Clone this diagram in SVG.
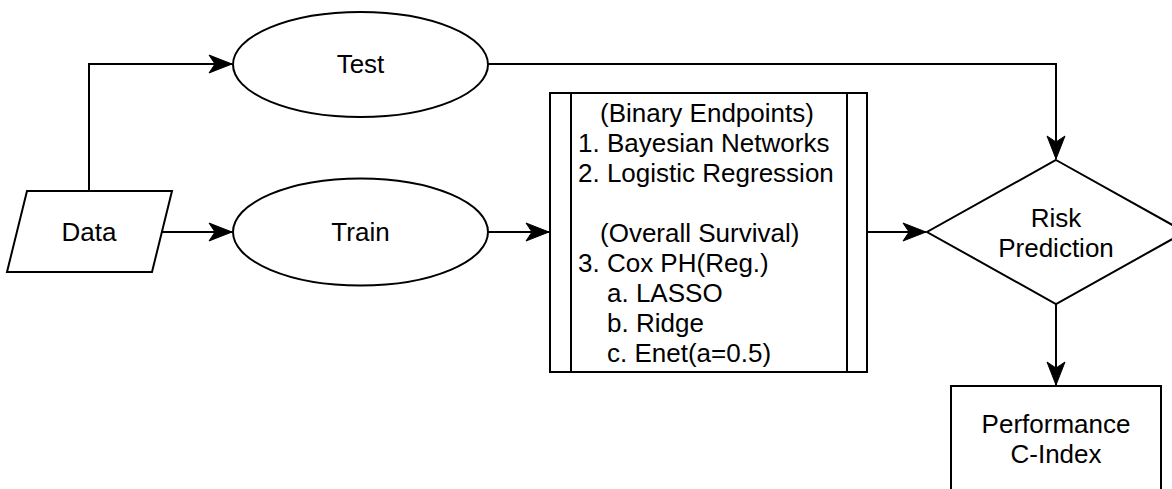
<svg xmlns="http://www.w3.org/2000/svg" width="1172" height="489" viewBox="0 0 1172 489">
<style>
.shape{fill:#ffffff;stroke:#000000;stroke-width:2}
.edge{fill:none;stroke:#000000;stroke-width:2}
text{font-family:"Liberation Sans",Arial,sans-serif;font-size:26px;fill:#000000}
.c{text-anchor:middle}
</style>
<defs>
<marker id="arr" markerUnits="userSpaceOnUse" markerWidth="26" markerHeight="22" viewBox="-24 -11 26 22" refX="0" refY="0" orient="auto">
<path d="M0,0 L-23,-9 L-17,0 L-23,9 Z" fill="#000000" stroke="#000000" stroke-width="1"/>
</marker>
</defs>
<rect width="1172" height="489" fill="#ffffff"/>
<g id="connectors">
<path class="edge" d="M89,191 L89,64 L232,64" marker-end="url(#arr)"/>
<path class="edge" d="M162,232 L232,232" marker-end="url(#arr)"/>
<path class="edge" d="M488,232 L549,232" marker-end="url(#arr)"/>
<path class="edge" d="M488,64 L1056,64 L1056,159" marker-end="url(#arr)"/>
<path class="edge" d="M867,232 L926,232" marker-end="url(#arr)"/>
<path class="edge" d="M1056,304 L1056,385" marker-end="url(#arr)"/>
</g>
<g id="data">
<polygon class="shape" points="27,191 172,191 152,272 7,272"/>
<text class="c" x="89" y="241">Data</text>
</g>
<g id="test">
<ellipse class="shape" cx="360.5" cy="64.5" rx="127.5" ry="52.5"/>
<text class="c" x="360.5" y="73">Test</text>
</g>
<g id="train">
<ellipse class="shape" cx="360.5" cy="232" rx="127.5" ry="53.5"/>
<text class="c" x="360.5" y="241">Train</text>
</g>
<g id="models">
<rect class="shape" x="550" y="93" width="317" height="279"/>
<line class="edge" x1="571" y1="93" x2="571" y2="372"/>
<line class="edge" x1="847" y1="93" x2="847" y2="372"/>
<text x="600" y="122">(Binary Endpoints)</text>
<text x="578" y="152">1. Bayesian Networks</text>
<text x="578" y="182">2. Logistic Regression</text>
<text x="600" y="242">(Overall Survival)</text>
<text x="578" y="272">3. Cox PH(Reg.)</text>
<text x="607" y="302">a. LASSO</text>
<text x="607" y="332">b. Ridge</text>
<text x="607" y="362">c. Enet(a=0.5)</text>
</g>
<g id="risk">
<polygon class="shape" points="1056,160 1185,232 1056,304 927,232"/>
<text class="c" x="1056" y="227">Risk</text>
<text class="c" x="1056" y="257">Prediction</text>
</g>
<g id="performance">
<rect class="shape" x="951" y="386" width="210" height="130"/>
<text class="c" x="1056" y="433">Performance</text>
<text class="c" x="1056" y="463">C-Index</text>
</g>
</svg>
